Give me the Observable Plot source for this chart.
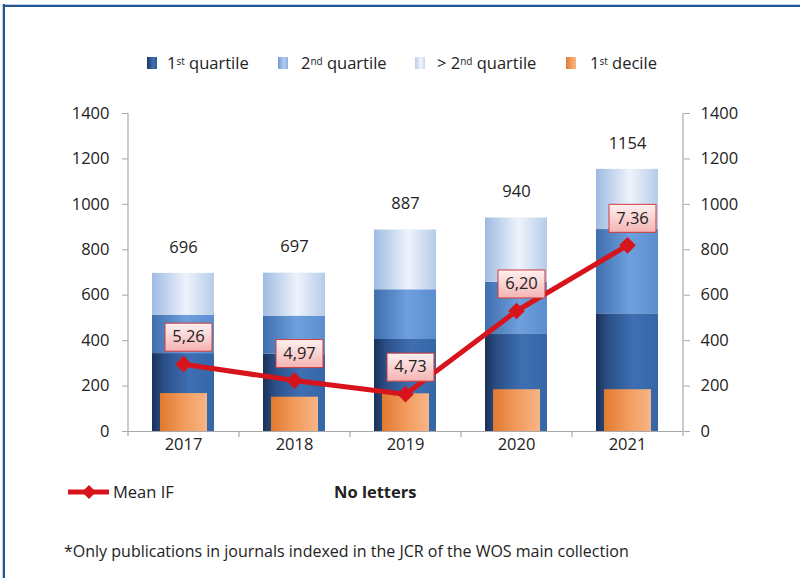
<!DOCTYPE html>
<html><head><meta charset="utf-8">
<script src="https://cdn.jsdelivr.net/npm/d3@7"></script>
<script src="https://cdn.jsdelivr.net/npm/@observablehq/plot@0.6"></script>
<style>
body{margin:0;background:#fff;font-family:"Open Sans",sans-serif;color:#222;}
#wrap{position:relative;width:800px;height:578px;overflow:hidden;background:#fff;}
#frameTop{position:absolute;left:3px;top:4px;width:800px;height:2px;background:#24578f;border-top:1px solid #b9cde3;}
#frameLeft{position:absolute;left:2px;top:4px;width:2px;height:600px;background:#24578f;border-left:1px solid #b9cde3;}
#chart{position:absolute;left:0;top:0;}
.leg{position:absolute;top:52px;font-size:16.5px;line-height:22px;white-space:nowrap;}
.sq{position:absolute;top:57px;width:10px;height:12px;}
sup{font-size:10px;vertical-align:top;position:relative;top:-2px;}
#meanif{position:absolute;left:113px;top:481px;font-size:16.5px;line-height:22px;}
#noletters{position:absolute;left:334px;top:481px;font-size:16.5px;font-weight:bold;line-height:22px;}
#note{position:absolute;left:64px;top:540px;font-size:16px;line-height:22px;white-space:nowrap;}
#legline{position:absolute;left:60px;top:482px;}
</style></head><body>
<div id="wrap">
  <div id="frameTop"></div><div id="frameLeft"></div>
  <div id="chart"></div>
  <div class="sq" style="left:147px;background:linear-gradient(90deg,#1b355e,#3f70b3 60%,#2d5c9c)"></div>
  <div class="leg" style="left:167px">1<sup>st</sup> quartile</div>
  <div class="sq" style="left:278px;background:linear-gradient(90deg,#6f9bd6,#b4cdee 60%,#8db0e0)"></div>
  <div class="leg" style="left:301px">2<sup>nd</sup> quartile</div>
  <div class="sq" style="left:415px;background:linear-gradient(90deg,#b9cbe6,#f2f5fb 60%,#c9d7ec)"></div>
  <div class="leg" style="left:437px">&gt; 2<sup>nd</sup> quartile</div>
  <div class="sq" style="left:566px;background:linear-gradient(90deg,#e07b38,#f5a467 60%,#f7b788)"></div>
  <div class="leg" style="left:590px">1<sup>st</sup> decile</div>
  <svg id="legline" width="60" height="20"><line x1="8" y1="10" x2="49" y2="10" stroke="#d7141c" stroke-width="5"/><path d="M29,3 L36,10 L29,17 L22,10 Z" fill="#d7141c"/></svg>
  <div id="meanif">Mean IF</div>
  <div id="noletters">No letters</div>
  <div id="note">*Only publications in journals indexed in the JCR of the WOS main collection</div>
</div>
<script>
const years = ["2017", "2018", "2019", "2020", "2021"];
const firstQuartile = [343, 340, 405, 430, 518];
const secondQuartile = [168, 168, 219, 227, 371];
const aboveSecondQuartile = [185, 189, 263, 283, 265];
const totals = [696, 697, 887, 940, 1154];
const firstDecile = [167, 151, 166, 184, 184];
const meanIF = [5.26, 4.97, 4.73, 6.20, 7.36];
const meanIFLabels = ["5,26", "4,97", "4,73", "6,20", "7,36"];
const yTicks = [0, 200, 400, 600, 800, 1000, 1200, 1400];
const ifAxisDomain = [4.07, 9.69]; // hidden secondary axis of the mean IF line

const width = 800, height = 470;
const marginLeft = 128, marginRight = 117, marginTop = 113, marginBottom = 39;
const step = (width - marginLeft - marginRight) / years.length;
const ifScale = d3.scaleLinear().domain(ifAxisDomain).range([0, 1400]);

const rows = years.map((year, i) => ({
  year,
  q1: firstQuartile[i],
  q2top: firstQuartile[i] + secondQuartile[i],
  top: firstQuartile[i] + secondQuartile[i] + aboveSecondQuartile[i],
  total: totals[i],
  decile: firstDecile[i],
  mif: ifScale(meanIF[i]),
  label: meanIFLabels[i]
}));

const boxSymbol = {draw(ctx) { ctx.rect(-23.5, -14, 47, 28); }};
const axisColor = "#a9a9a9";
const font = 16.5;
const fmt = d => String(d);

const plot = Plot.plot({
  width, height, marginLeft, marginRight, marginTop, marginBottom,
  style: {fontFamily: "'Open Sans', sans-serif", fontSize: font + "px", color: "#222", background: "transparent"},
  x: {type: "band", domain: years, paddingInner: 0.44, paddingOuter: 0.22},
  y: {domain: [0, 1400]},
  marks: [
    Plot.barY(rows, {x: "year", y1: 0, y2: "q1", fill: "url(#gQ1)"}),
    Plot.barY(rows, {x: "year", y1: "q1", y2: "q2top", fill: "url(#gQ2)"}),
    Plot.barY(rows, {x: "year", y1: "q2top", y2: "top", fill: "url(#gQ3)"}),
    Plot.barY(rows, {x: "year", y1: 0, y2: "decile", fill: "url(#gOr)", insetLeft: 8, insetRight: 7}),
    Plot.ruleY([0], {stroke: axisColor, strokeWidth: 1.2}),
    Plot.ruleX([years[0]], {x: d => d, dx: -step / 2, stroke: axisColor, strokeWidth: 1.2, insetBottom: -5}),
    Plot.ruleX([years[years.length - 1]], {x: d => d, dx: step / 2, stroke: axisColor, strokeWidth: 1.2, insetBottom: -5}),
    Plot.ruleX(years.slice(1), {x: d => d, dx: -step / 2, y1: 0, y2: 0, insetBottom: -6, stroke: axisColor, strokeWidth: 1.2}),
    Plot.axisY(yTicks, {anchor: "left", tickSize: 6, tickPadding: 13, tickFormat: fmt, stroke: axisColor, fill: "#222", label: null, fontSize: font}),
    Plot.axisY(yTicks, {anchor: "right", tickSize: 6, tickPadding: 11, tickFormat: fmt, stroke: axisColor, fill: "#222", label: null, fontSize: font}),
    Plot.axisX({tickSize: 0, tickPadding: 7, fill: "#222", label: null, fontSize: font}),
    Plot.text(rows, {x: "year", y: "total", text: d => String(d.total), dy: -26, fill: "#222", fontSize: font}),
    Plot.line(rows, {x: "year", y: "mif", stroke: "#d7141c", strokeWidth: 5, strokeLinejoin: "round"}),
    Plot.dot(rows, {x: "year", y: "mif", symbol: "diamond2", r: 7.5, fill: "#d7141c"}),
    Plot.dot(rows, {x: "year", y: "mif", symbol: boxSymbol, r: 5, dx: 5, dy: -27, fill: "url(#gPink)", stroke: "#cf3b3b", strokeWidth: 1}),
    Plot.text(rows, {x: "year", y: "mif", text: "label", dx: 5, dy: -27, fill: "#222", fontSize: font})
  ]
});

const defs = `
<linearGradient id="gQ1" x1="0" x2="1" y1="0" y2="0">
  <stop offset="0" stop-color="#1a3158"/><stop offset="0.2" stop-color="#2b5089"/>
  <stop offset="0.6" stop-color="#3e6fb2"/><stop offset="1" stop-color="#3566a8"/></linearGradient>
<linearGradient id="gQ2" x1="0" x2="1" y1="0" y2="0">
  <stop offset="0" stop-color="#3f6fae"/><stop offset="0.55" stop-color="#6f9fdc"/>
  <stop offset="1" stop-color="#5a8ed0"/></linearGradient>
<linearGradient id="gQ3" x1="0" x2="1" y1="0" y2="0">
  <stop offset="0" stop-color="#9fbbe2"/><stop offset="0.55" stop-color="#eef3fb"/>
  <stop offset="1" stop-color="#b6cbe9"/></linearGradient>
<linearGradient id="gOr" x1="0" x2="1" y1="0" y2="0">
  <stop offset="0" stop-color="#e0792f"/><stop offset="0.5" stop-color="#f29b5c"/>
  <stop offset="1" stop-color="#f7b586"/></linearGradient>
<linearGradient id="gPink" x1="0" x2="0" y1="0" y2="1">
  <stop offset="0" stop-color="#fff1f1"/><stop offset="1" stop-color="#f5b3b3"/></linearGradient>`;
const d = document.createElementNS("http://www.w3.org/2000/svg", "defs");
d.innerHTML = defs;
plot.insertBefore(d, plot.firstChild);
document.getElementById("chart").appendChild(plot);
</script>
</body></html>
